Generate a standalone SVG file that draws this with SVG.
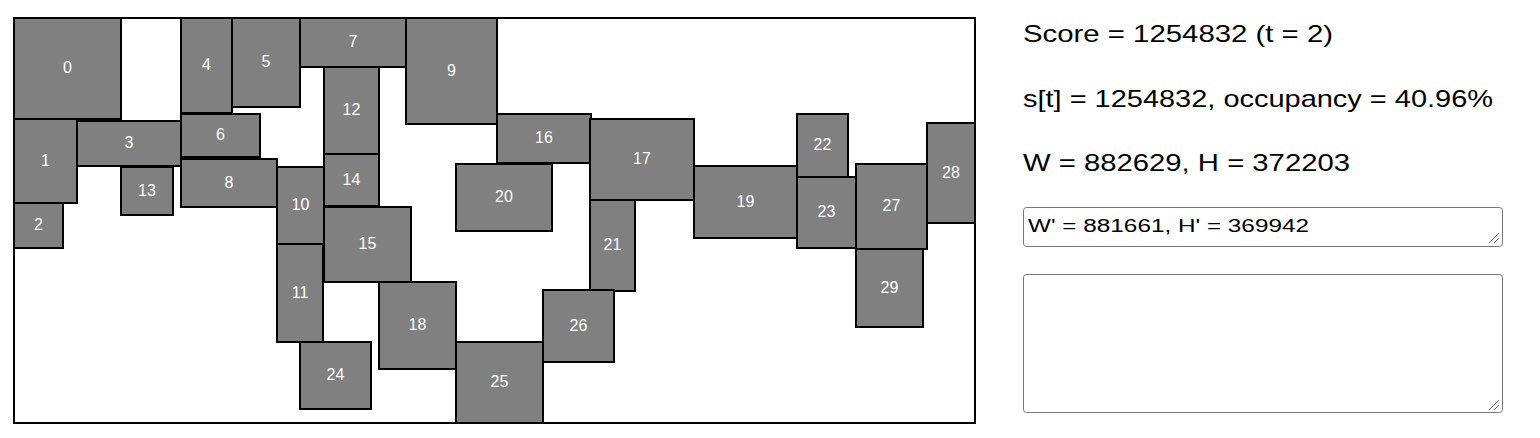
<svg xmlns="http://www.w3.org/2000/svg" width="1540" height="438" viewBox="0 0 1540 438">
<style>
.frame{fill:#fff;stroke:#000;stroke-width:2}
.box rect{fill:#808080;stroke:#000;stroke-width:2}
.box text{fill:#fff;font-family:"Liberation Sans",Arial,sans-serif;font-size:16px;text-anchor:middle;dominant-baseline:central}
.info{fill:#000;font-family:"Liberation Sans",Arial,sans-serif;font-size:24px}
.ta{fill:#fff;stroke:#767676;stroke-width:1}
.ta-text{fill:#000;font-family:"Liberation Sans",Arial,sans-serif;font-size:18px}
.grip{stroke:#666;stroke-width:1}
</style>
<rect class="frame" x="14" y="18" width="961" height="405"/>
<g id="n0" class="box"><rect x="14" y="18" width="107" height="101"/><text x="67.5" y="67.5">0</text></g>
<g id="n1" class="box"><rect x="14" y="119" width="63" height="84"/><text x="45.5" y="160">1</text></g>
<g id="n2" class="box"><rect x="14" y="203" width="49" height="45"/><text x="38.5" y="224.5">2</text></g>
<g id="n3" class="box"><rect x="77" y="121" width="104" height="45"/><text x="129" y="142.5">3</text></g>
<g id="n4" class="box"><rect x="181" y="18" width="51" height="95"/><text x="206.5" y="64.5">4</text></g>
<g id="n5" class="box"><rect x="232" y="18" width="68" height="89"/><text x="266" y="61.5">5</text></g>
<g id="n6" class="box"><rect x="181" y="114" width="79" height="43"/><text x="220.5" y="134.5">6</text></g>
<g id="n7" class="box"><rect x="300" y="18" width="106" height="49"/><text x="353" y="41.5">7</text></g>
<g id="n8" class="box"><rect x="181" y="159" width="96" height="48"/><text x="229" y="182">8</text></g>
<g id="n9" class="box"><rect x="406" y="18" width="91" height="106"/><text x="451.5" y="70">9</text></g>
<g id="n10" class="box"><rect x="277" y="167" width="47" height="77"/><text x="300.5" y="204.5">10</text></g>
<g id="n11" class="box"><rect x="277" y="244" width="46" height="98"/><text x="300" y="292">11</text></g>
<g id="n12" class="box"><rect x="324" y="67" width="55" height="87"/><text x="351.5" y="109.5">12</text></g>
<g id="n13" class="box"><rect x="121" y="167" width="52" height="48"/><text x="147" y="190">13</text></g>
<g id="n14" class="box"><rect x="324" y="154" width="55" height="52"/><text x="351.5" y="179">14</text></g>
<g id="n15" class="box"><rect x="324" y="207" width="87" height="75"/><text x="367.5" y="243.5">15</text></g>
<g id="n16" class="box"><rect x="497" y="114" width="94" height="49"/><text x="544" y="137.5">16</text></g>
<g id="n17" class="box"><rect x="590" y="119" width="104" height="81"/><text x="642" y="158.5">17</text></g>
<g id="n18" class="box"><rect x="379" y="282" width="77" height="87"/><text x="417.5" y="324.5">18</text></g>
<g id="n19" class="box"><rect x="694" y="166" width="103" height="72"/><text x="745.5" y="201">19</text></g>
<g id="n20" class="box"><rect x="456" y="164" width="96" height="67"/><text x="504" y="196.5">20</text></g>
<g id="n21" class="box"><rect x="590" y="200" width="45" height="91"/><text x="612.5" y="244.5">21</text></g>
<g id="n22" class="box"><rect x="797" y="114" width="51" height="63"/><text x="822.5" y="144.5">22</text></g>
<g id="n23" class="box"><rect x="797" y="177" width="59" height="71"/><text x="826.5" y="211.5">23</text></g>
<g id="n24" class="box"><rect x="300" y="342" width="71" height="67"/><text x="335.5" y="374.5">24</text></g>
<g id="n25" class="box"><rect x="456" y="342" width="87" height="81"/><text x="499.5" y="381.5">25</text></g>
<g id="n26" class="box"><rect x="543" y="290" width="71" height="72"/><text x="578.5" y="325">26</text></g>
<g id="n27" class="box"><rect x="856" y="164" width="71" height="85"/><text x="891.5" y="205.5">27</text></g>
<g id="n28" class="box"><rect x="927" y="123" width="48" height="100"/><text x="951" y="172">28</text></g>
<g id="n29" class="box"><rect x="856" y="249" width="67" height="78"/><text x="889.5" y="287">29</text></g>
<g id="connectors"></g>
<g id="info">
<text class="info" x="1023" y="42" textLength="310" lengthAdjust="spacingAndGlyphs">Score = 1254832 (t = 2)</text>
<text class="info" x="1023" y="107" textLength="470" lengthAdjust="spacingAndGlyphs">s[t] = 1254832, occupancy = 40.96%</text>
<text class="info" x="1023" y="171" textLength="327" lengthAdjust="spacingAndGlyphs">W = 882629, H = 372203</text>
</g>
<g id="textarea1">
<rect class="ta" x="1023.5" y="207.5" width="479" height="39" rx="3"/>
<text class="ta-text" x="1028" y="232" textLength="281" lengthAdjust="spacingAndGlyphs">W' = 881661, H' = 369942</text>
<line class="grip" x1="1489" y1="243" x2="1499" y2="233"/>
<line class="grip" x1="1494" y1="243" x2="1499" y2="238"/>
</g>
<g id="textarea2">
<rect class="ta" x="1023.5" y="274.5" width="479" height="138" rx="3"/>
<line class="grip" x1="1489" y1="410" x2="1499" y2="400"/>
<line class="grip" x1="1494" y1="410" x2="1499" y2="405"/>
</g>
</svg>
